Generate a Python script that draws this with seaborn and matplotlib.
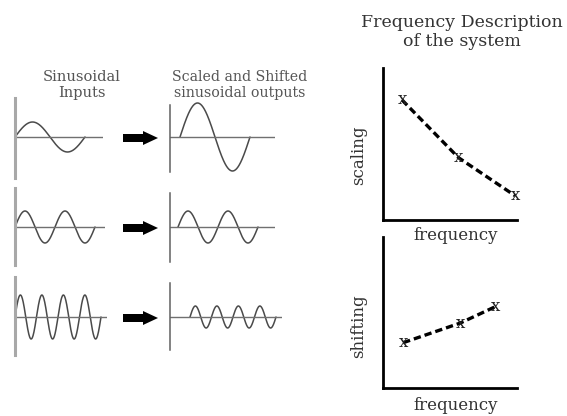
import numpy as np
import pandas as pd
import matplotlib
matplotlib.use("Agg")
import matplotlib.pyplot as plt
import seaborn as sns
from matplotlib.patches import FancyArrow

# sinusoid rows: input -> scaled and shifted output (10 px per unit)
input_cycles = [1, 2, 4]
periods = [7.0, 4.0, 2.15]
input_amplitudes = [1.5, 1.6, 2.2]
output_amplitudes = [3.4, 1.6, 1.1]
output_shifts = [1.0, 0.8, 2.0]

# frequency description of the system
freq_scaling = [1.0, 2.0, 3.0]
scaling = [0.79, 0.41, 0.16]
freq_shifting = [1.02, 2.03, 2.66]
shifting = [0.30, 0.43, 0.54]

W, H = 567, 416
sns.set_theme(style="white")
plt.rcParams['font.family'] = ['DejaVu Serif', 'DejaVu Sans']

fig = plt.figure(figsize=(W / 100, H / 100), dpi=100)
fig.patch.set_facecolor('white')


def px_axes(x0, y0, x1, y1):
    # pixel box (top-left origin) -> figure axes
    return fig.add_axes([x0 / W, 1 - y1 / H, (x1 - x0) / W, (y1 - y0) / H])


# overlay for arrows and text
over = fig.add_axes([0, 0, 1, 1])
over.set_xlim(0, W)
over.set_ylim(H, 0)
over.axis('off')

# panel layout in pixels
in_x0, out_x0 = 15, 170
in_top, in_bot, in_x1 = [98, 188, 277], [178, 265, 355], [103, 105, 107]
out_top, out_bot, out_x1 = [105, 193, 283], [172, 262, 350], [275, 275, 282]
row_axis = [137, 227, 317]


def sine_panel(x0, x1, top, bot, yaxis, start, amp, period, cycles, vcolor, vlw):
    ax = px_axes(x0, top, x1, bot)
    ax.set_xlim(0, (x1 - x0) / 10)
    ax.set_ylim(-(bot - yaxis) / 10, (yaxis - top) / 10)
    t = np.linspace(start, start + cycles * period, 400)
    df = pd.DataFrame({'t': t, 'v': amp * np.sin(2 * np.pi * (t - start) / period)})
    sns.lineplot(data=df, x='t', y='v', ax=ax, color='#4a4a4a', lw=1.1,
                 sort=False, estimator=None, clip_on=False)
    ax.axhline(0, color='#707070', lw=1.0)
    for s in ['top', 'right', 'bottom']:
        ax.spines[s].set_visible(False)
    ax.spines['left'].set_color(vcolor)
    ax.spines['left'].set_linewidth(vlw)
    ax.set_xticks([])
    ax.set_yticks([])
    ax.set_xlabel('')
    ax.set_ylabel('')
    ax.patch.set_alpha(0)


for i in range(3):
    sine_panel(in_x0, in_x1[i], in_top[i], in_bot[i], row_axis[i], 0.0,
               input_amplitudes[i], periods[i], input_cycles[i], '#a8a8a8', 2.2)
    sine_panel(out_x0, out_x1[i], out_top[i], out_bot[i], row_axis[i], output_shifts[i],
               output_amplitudes[i], periods[i], input_cycles[i], '#606060', 1.1)
    over.add_patch(FancyArrow(123, row_axis[i] + 1, 35, 0, width=8, head_width=14,
                              head_length=15, length_includes_head=True,
                              color='black', lw=0))

over.text(82, 85, "Sinusoidal\nInputs", ha='center', va='center', fontsize=10.5,
          color='#555555', linespacing=1.1)
over.text(240, 85, "Scaled and Shifted\nsinusoidal outputs", ha='center', va='center',
          fontsize=10.2, color='#555555', linespacing=1.1)
over.text(462, 32, "Frequency Description\nof the system", ha='center', va='center',
          fontsize=12.5, color='#333333', linespacing=1.15)


def freq_panel(top, bot, fx, fy, ylabel, ylab_y, xlab_y):
    ax = px_axes(383, top, 517, bot)
    ax.set_xlim(0.664, 3.035)
    ax.set_ylim(0, 1)
    sns.lineplot(x=fx, y=fy, ax=ax, color='black', lw=2.4, clip_on=False)
    ax.lines[-1].set_dashes((2.2, 1.2))
    for xv, yv in zip(fx, fy):
        ax.text(xv, yv, 'x', ha='center', va='center', fontsize=12, color='#222222')
    sns.despine(ax=ax)
    for s in ['left', 'bottom']:
        ax.spines[s].set_color('black')
        ax.spines[s].set_linewidth(2.0)
    ax.set_xticks([])
    ax.set_yticks([])
    ax.set_xlabel('')
    ax.set_ylabel('')
    ax.patch.set_alpha(0)
    over.text(359, ylab_y, ylabel, rotation=90, ha='center', va='center',
              fontsize=12, color='#333333')
    over.text(456, xlab_y, 'frequency', ha='center', va='center',
              fontsize=12, color='#333333')


freq_panel(68, 220, freq_scaling, scaling, 'scaling', 155, 235)
freq_panel(237, 388, freq_shifting, shifting, 'shifting', 326, 406)

fig.savefig('out.png', dpi=100)
